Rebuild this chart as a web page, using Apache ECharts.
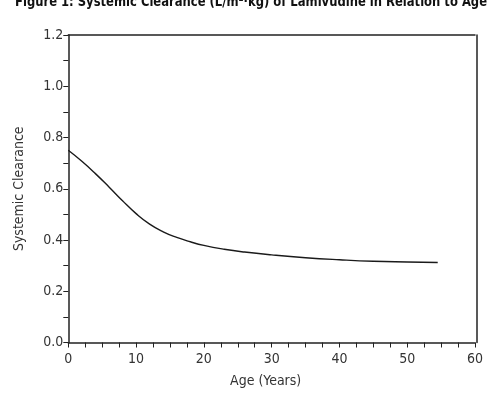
<!DOCTYPE html>
<html><head><meta charset="utf-8">
<script src="https://cdn.jsdelivr.net/npm/echarts@6/dist/echarts.min.js"></script>
<style>html,body{margin:0;padding:0;background:#fff}#c{width:487px;height:393px}</style>
</head><body><div id="c"></div>
<script>
const titleText = 'Figure 1: Systemic Clearance (L/m\u00B2\u00B7kg) of Lamivudine in Relation to Age';
const xLabel = 'Age (Years)';
const yLabel = 'Systemic Clearance';
const ages = [0, 2, 4, 6, 8, 10, 12, 14, 16, 18, 20, 23, 26, 30, 35, 40, 45, 50, 54.5];
const clearance = [0.75, 0.707, 0.659, 0.607, 0.553, 0.503, 0.462, 0.432, 0.410, 0.393, 0.379, 0.364, 0.353, 0.342, 0.331, 0.323, 0.317, 0.314, 0.312];
const FONT = "'Liberation Sans Narrow', 'DejaVu Sans Condensed', 'Liberation Sans', sans-serif";
const titleFont = 'bold 14px ' + FONT;
const ctx = document.createElement('canvas').getContext('2d');
ctx.font = titleFont;
const titleW = ctx.measureText(titleText).width;
const titleScale = 472 / titleW;
const chart = echarts.init(document.getElementById('c'), null, {renderer: 'canvas'});
const axisColor = '#222';
chart.setOption({
  animation: false,
  backgroundColor: '#fff',
  graphic: [{
    type: 'text', x: 15, y: -5, scaleX: titleScale,
    style: {text: titleText, font: titleFont, fill: '#111'}
  }],
  grid: {left: 68.3, right: 12, top: 35, bottom: 50.3},
  xAxis: [{
    type: 'value', min: 0, max: 60, interval: 10, offset: 1.5,
    name: xLabel, nameLocation: 'middle', nameGap: 30,
    nameTextStyle: {fontFamily: FONT, fontSize: 14, color: '#333', padding: [0, 12, 0, 0]},
    axisLine: {show: true, lineStyle: {color: axisColor, width: 1.5}},
    axisTick: {show: true, length: 5, lineStyle: {color: axisColor, width: 1}},
    minorTick: {show: true, splitNumber: 4, length: 5, lineStyle: {color: axisColor, width: 1}},
    axisLabel: {fontFamily: FONT, fontSize: 14, color: '#333', margin: 8},
    splitLine: {show: false}
  }, {
    type: 'value', position: 'top', min: 0, max: 60,
    axisLine: {show: true, onZero: false, lineStyle: {color: axisColor, width: 1.5}},
    axisTick: {show: false}, axisLabel: {show: false}, splitLine: {show: false}
  }],
  yAxis: [{
    type: 'value', min: 0, max: 1.2, interval: 0.2, offset: 2,
    name: yLabel, nameLocation: 'middle', nameGap: 40,
    nameTextStyle: {fontFamily: FONT, fontSize: 14, color: '#333'},
    axisLine: {show: true, lineStyle: {color: axisColor, width: 1.5}},
    axisTick: {show: true, length: 5, lineStyle: {color: axisColor, width: 1}},
    minorTick: {show: true, splitNumber: 2, length: 5, lineStyle: {color: axisColor, width: 1}},
    axisLabel: {fontFamily: FONT, fontSize: 14, color: '#333', margin: 3, formatter: v => v.toFixed(1)},
    splitLine: {show: false}
  }, {
    type: 'value', position: 'right', min: 0, max: 1.2, offset: 2,
    axisLine: {show: true, onZero: false, lineStyle: {color: axisColor, width: 1.5}},
    axisTick: {show: false}, axisLabel: {show: false}, splitLine: {show: false}
  }],
  series: [{
    type: 'line', xAxisIndex: 0, yAxisIndex: 0,
    data: ages.map((a, i) => [a, clearance[i]]),
    smooth: 0.5, showSymbol: false,
    lineStyle: {color: '#1a1a1a', width: 1.4}
  }]
});
</script></body></html>
